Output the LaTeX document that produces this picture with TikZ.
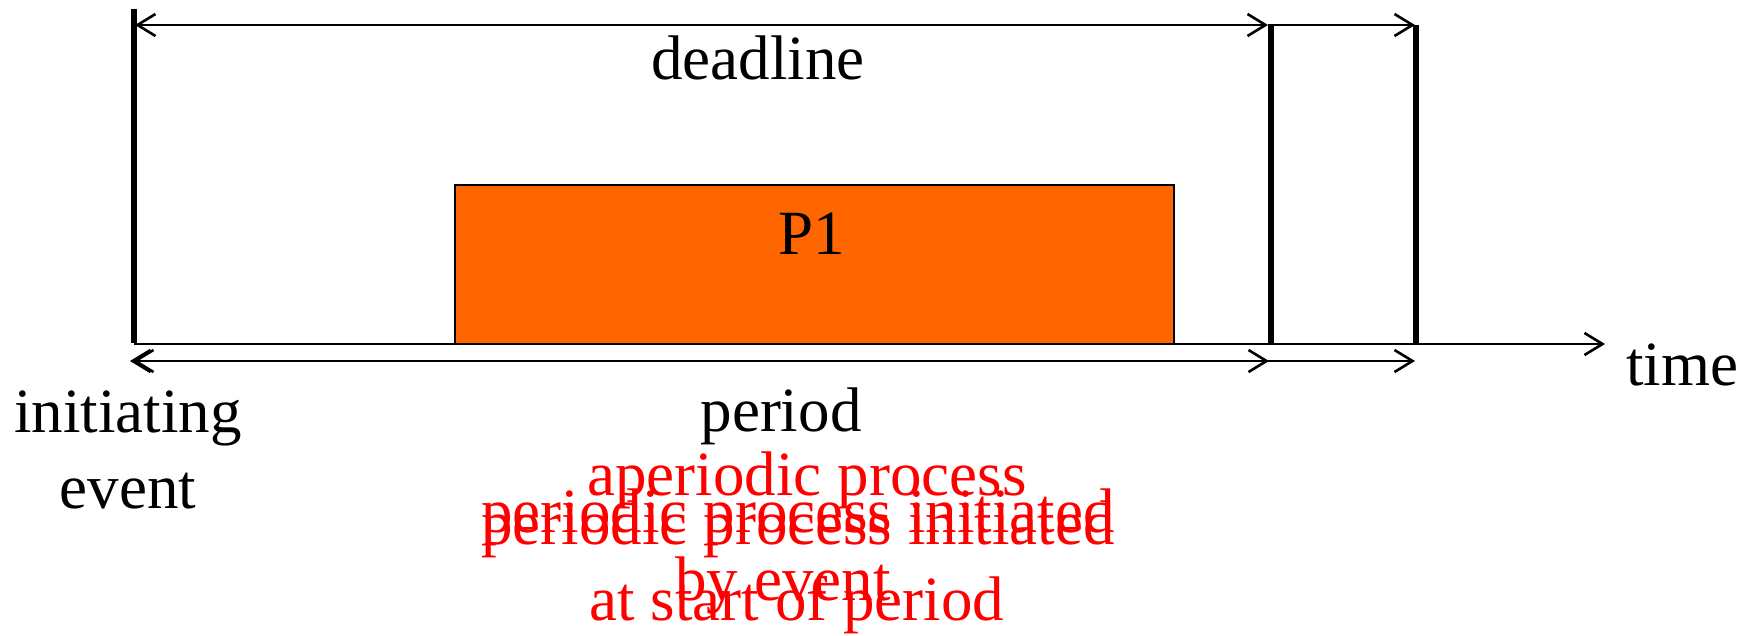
\documentclass[tikz,border=0pt]{standalone}
\usepackage{fontspec}
\setmainfont{Liberation Serif}
\usetikzlibrary{arrows.meta}
\definecolor{procorange}{HTML}{FF6600}
\tikzset{
  barb/.tip={Straight Barb[length=18pt,width=22pt]},
  bar/.style={line width=5.5pt},
  axis/.style={line width=2.6pt,-barb},
  span/.style={line width=2.6pt,barb-barb},
  fwd/.style={line width=2.6pt,-barb},
  proc/.style={draw=black,line width=2.6pt,fill=procorange},
  lbl/.style={font=\fontsize{63}{75}\selectfont,inner sep=0pt,anchor=base},
  note/.style={lbl,text=red}
}
\begin{document}
\begin{tikzpicture}[x=1pt,y=-1pt]
\useasboundingbox (0,0) rectangle (1756,636);

% time instants
\coordinate (ev)    at (134,344);
\coordinate (evtop) at (134,9);
\coordinate (dl)    at (1271,344);
\coordinate (dltop) at (1271,25);
\coordinate (pe)    at (1416,344);
\coordinate (petop) at (1416,25);
\coordinate (tend)  at (1605,344);

% deadline span endpoints
\coordinate (da) at (135,25);
\coordinate (db) at (1268,25);
\coordinate (dc) at (1415,25);

% period span endpoints
\coordinate (pa)  at (130,361);
\coordinate (pa2) at (133,361);
\coordinate (pb)  at (1269,361);
\coordinate (pc)  at (1415,361);

% process P1
\draw[proc] (455,185) rectangle (1174,344);
\node[lbl] (p1) at (812,255) {P1};

% time axis
\draw[axis] (ev) -- (tend);

% event, deadline and period markers
\draw[bar] (evtop) -- ([yshift=1.5pt]ev);
\draw[bar] (dltop) -- ([yshift=1.5pt]dl);
\draw[bar] (petop) -- ([yshift=1.5pt]pe);

% deadline span
\draw[span] (da) -- (db);
\draw[fwd] (db) -- (dc);

% period span
\draw[span] (pa) -- (pb);
\draw[fwd] (pb) -- (pa2);
\draw[fwd] (pb) -- (pc);

% labels
\node[lbl] (deadline) at (758,80) {deadline};
\node[lbl] (period) at (781,431) {period};
\node[lbl] (time) at (1682,385) {time};
\node[lbl] (init) at (128,432) {initiating};
\node[lbl] (event) at (128,508) {event};

% process kind notes
\node[note] (aper) at (807,495) {aperiodic process};
\node[note] (peri1) at (798,532) {periodic process initiated};
\node[note] (byev) at (783,600) {by event};
\node[note] (peri2) at (798,544) {periodic process initiated};
\node[note] (start) at (797,620) {at start of period};
\end{tikzpicture}
\end{document}
